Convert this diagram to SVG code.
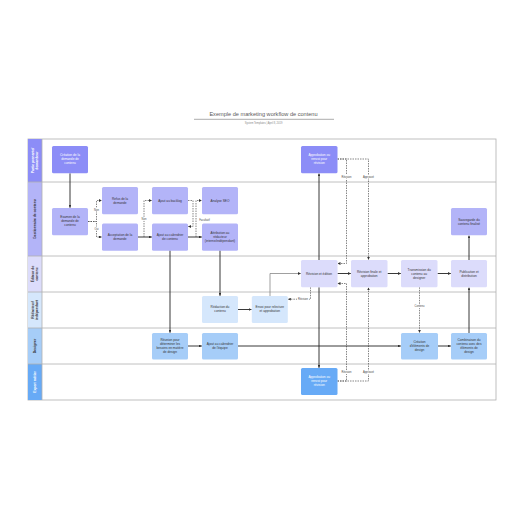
<svg xmlns="http://www.w3.org/2000/svg" width="516" height="516" viewBox="0 0 516 516">
<defs>
<marker id="ah" viewBox="0 0 4 4" refX="4" refY="2" markerWidth="2.8" markerHeight="2.8" markerUnits="userSpaceOnUse" orient="auto"><path d="M0,0 L4,2 L0,4 Z" fill="#333"/></marker>
</defs>
<style>
text{font-family:"Liberation Sans",Arial,sans-serif;}
.t{font-size:3.2px;fill:#333;text-anchor:middle;}
.w{fill:#fff;}
.hd{font-size:3.4px;font-weight:bold;text-anchor:middle;fill:#333;}
.n rect{rx:1.5;ry:1.5;}
.p1{fill:#8c8df7;}
.p2{fill:#b3b4f8;}
.p3{fill:#dcdcfb;}
.p4{fill:#d5e7fc;}
.p5{fill:#a6cdf8;}
.p6{fill:#67aaf6;}
.ln{fill:none;stroke:#222;stroke-width:0.9;marker-end:url(#ah);}
.lg{fill:none;stroke:#777;stroke-width:0.7;marker-end:url(#ah);}
.ds{fill:none;stroke:#444;stroke-width:0.65;stroke-dasharray:1.5,1;marker-end:url(#ah);}
.lb{font-size:2.6px;fill:#444;text-anchor:middle;}
.lbg{fill:#fff;}
.sep{stroke:#b0b0b0;stroke-width:0.8;}
</style>
<rect width="516" height="516" fill="#fff"/>
<g id="title">
<text x="263.5" y="116" style="font-size:5.6px;fill:#5a5a5a;text-anchor:middle;">Exemple de marketing workflow de contenu</text>
<line x1="194" y1="119.3" x2="334" y2="119.3" stroke="#888" stroke-width="0.7"/>
<text x="263.5" y="124.2" style="font-size:2.6px;fill:#888;text-anchor:middle;">System Templates  |  April 8, 2019</text>
</g>
<g id="lanes">
<rect x="28" y="139" width="468" height="261" fill="#fff" stroke="#b0b0b0" stroke-width="0.8"/>
<rect x="28" y="139" width="14" height="43" class="p1"/>
<rect x="28" y="182" width="14" height="74" class="p2"/>
<rect x="28" y="256" width="14" height="36" class="p3"/>
<rect x="28" y="292" width="14" height="36" class="p4"/>
<rect x="28" y="328" width="14" height="36" class="p5"/>
<rect x="28" y="364" width="14" height="36" class="p6"/>
<line class="sep" x1="28" y1="182" x2="496" y2="182"/>
<line class="sep" x1="28" y1="256" x2="496" y2="256"/>
<line class="sep" x1="28" y1="292" x2="496" y2="292"/>
<line class="sep" x1="28" y1="328" x2="496" y2="328"/>
<line class="sep" x1="28" y1="364" x2="496" y2="364"/>
<line class="sep" x1="42" y1="139" x2="42" y2="400"/>
<text class="hd w" transform="translate(35,160.5) rotate(-90)" style="fill:#fff"><tspan x="0" y="-0.6">Partie prenante/</tspan><tspan x="0" y="3.4">demandeur</tspan></text>
<text class="hd" transform="translate(35,219) rotate(-90)"><tspan x="0" y="1.2">Gestionnaire de contenu</tspan></text>
<text class="hd" transform="translate(35,274) rotate(-90)"><tspan x="0" y="-0.6">Éditeur de</tspan><tspan x="0" y="3.4">contenu</tspan></text>
<text class="hd" transform="translate(35,310) rotate(-90)"><tspan x="0" y="-0.6">Rédacteur/</tspan><tspan x="0" y="3.4">indépendant</tspan></text>
<text class="hd" transform="translate(35,346) rotate(-90)"><tspan x="0" y="1.2">Designer</tspan></text>
<text class="hd" transform="translate(35,382) rotate(-90)" style="fill:#fff"><tspan x="0" y="1.2">Expert métier</tspan></text>
</g>
<g id="connectors">
<path class="ln" d="M70,173.3 V207.7"/>
<path class="ds" d="M88,221.5 H96.5 V200.5 H101.8"/>
<path class="ds" d="M88,221.5 H96.5 V237 H101.8"/>
<path class="ln" d="M138,237 H151.8"/>
<path class="ds" d="M144,237 V200.5 H151.8"/>
<path class="ds" d="M188,200.5 H193 V226.5 H188.2"/>
<path class="ln" d="M188,237 H201.8"/>
<path class="ds" d="M196,237 V200.5 H201.8"/>
<path class="ln" d="M170,250.3 V332.7"/>
<path class="ln" d="M220,250.3 V295.8"/>
<path class="ln" d="M238,309.5 H251.5"/>
<path class="lg" d="M270,296 V273.5 H300.8"/>
<path class="ds" d="M310.5,287.3 V299.2 H288"/>
<path class="ln" d="M319,260 V173.5"/>
<path class="ln" d="M319,287.3 V367.8"/>
<path class="ds" d="M337.5,159 H346.5 V263.5 H337.7"/>
<path class="ds" d="M337.5,159 H368.5 V259.8"/>
<path class="ds" d="M337.5,381 H346.5 V283.5 H337.7"/>
<path class="ds" d="M337.5,381 H368.5 V287.5"/>
<path class="ln" d="M337.5,273.5 H350.8"/>
<path class="ln" d="M387.5,273.5 H400.8"/>
<path class="ln" d="M437.5,273.5 H450.8"/>
<path class="ds" d="M419.5,287.3 V332.7"/>
<path class="ln" d="M188,346 H201.8"/>
<path class="ln" d="M238,346 H400.8"/>
<path class="ln" d="M438,346 H450.8"/>
<path class="ln" d="M469,333 V287.6"/>
<path class="ln" d="M469,260 V235.6"/>
<rect class="lbg" x="94.5" y="207.5" width="4" height="4"/><text class="lb" x="96.5" y="210.5">Non</text>
<rect class="lbg" x="94.5" y="226.5" width="4" height="4"/><text class="lb" x="96.5" y="229.5">Oui</text>
<rect class="lbg" x="142" y="216.8" width="4" height="4"/><text class="lb" x="144" y="219.8">Non</text>
<rect class="lbg" x="197" y="218" width="15" height="3.6"/><text class="lb" x="204.5" y="220.8">Facultatif</text>
<rect class="lbg" x="297" y="297.4" width="12" height="3.6"/><text class="lb" x="303" y="300.2">Révision</text>
<rect class="lbg" x="340.5" y="175" width="12" height="3.6"/><text class="lb" x="346.5" y="177.8">Révision</text>
<rect class="lbg" x="361.5" y="175" width="14" height="3.6"/><text class="lb" x="368.5" y="177.8">Approuvé</text>
<rect class="lbg" x="340.5" y="370.5" width="12" height="3.6"/><text class="lb" x="346.5" y="373.3">Révision</text>
<rect class="lbg" x="361.5" y="370.5" width="14" height="3.6"/><text class="lb" x="368.5" y="373.3">Approuvé</text>
<rect class="lbg" x="413.5" y="304.4" width="12" height="3.6"/><text class="lb" x="419.5" y="307.2">Contenu</text>
</g>
<g id="n-creation-demande" class="n"><rect x="52" y="146" width="36" height="27.3" class="p1"/><text class="t w" x="70" y="156"><tspan x="70">Création de la</tspan><tspan x="70" dy="4">demande de</tspan><tspan x="70" dy="4">contenu</tspan></text></g>
<g id="n-approbation-pp" class="n"><rect x="301" y="146" width="36.5" height="27.3" class="p1"/><text class="t w" x="319" y="156"><tspan x="319.2">Approbation ou</tspan><tspan x="319.2" dy="4">renvoi pour</tspan><tspan x="319.2" dy="4">révision</tspan></text></g>
<g id="n-examen" class="n"><rect x="52" y="208" width="36" height="27.3" class="p2"/><text class="t" x="70" y="218"><tspan x="70">Examen de la</tspan><tspan x="70" dy="4">demande de</tspan><tspan x="70" dy="4">contenu</tspan></text></g>
<g id="n-refus" class="n"><rect x="102" y="187" width="36" height="27.3" class="p2"/><text class="t" x="120" y="199.5"><tspan x="120">Refus de la</tspan><tspan x="120" dy="4">demande</tspan></text></g>
<g id="n-acceptation" class="n"><rect x="102" y="223.5" width="36" height="27.3" class="p2"/><text class="t" x="120" y="236"><tspan x="120">Acceptation de la</tspan><tspan x="120" dy="4">demande</tspan></text></g>
<g id="n-backlog" class="n"><rect x="152" y="187" width="36" height="27.3" class="p2"/><text class="t" x="170" y="201.8">Ajout au backlog</text></g>
<g id="n-calendrier" class="n"><rect x="152" y="223.5" width="36" height="27.3" class="p2"/><text class="t" x="170" y="236"><tspan x="170">Ajout au calendrier</tspan><tspan x="170" dy="4">de contenu</tspan></text></g>
<g id="n-seo" class="n"><rect x="202" y="187" width="36" height="27.3" class="p2"/><text class="t" x="220" y="201.8">Analyse SEO</text></g>
<g id="n-attribution" class="n"><rect x="202" y="223.5" width="36" height="27.3" class="p2"/><text class="t" x="220" y="234"><tspan x="220">Attribution au</tspan><tspan x="220" dy="4">rédacteur</tspan><tspan x="220" dy="4">(interne/indépendant)</tspan></text></g>
<g id="n-sauvegarde" class="n"><rect x="451" y="208" width="36" height="27.3" class="p2"/><text class="t" x="469" y="220.5"><tspan x="469">Sauvegarde du</tspan><tspan x="469" dy="4">contenu finalisé</tspan></text></g>
<g id="n-revision-edition" class="n"><rect x="301" y="260" width="36.5" height="27.3" class="p3"/><text class="t" x="319" y="274.8">Révision et édition</text></g>
<g id="n-revision-finale" class="n"><rect x="351" y="260" width="36.5" height="27.3" class="p3"/><text class="t" x="369" y="272.5"><tspan x="369.2">Révision finale et</tspan><tspan x="369.2" dy="4">approbation</tspan></text></g>
<g id="n-transmission" class="n"><rect x="401" y="260" width="36.5" height="27.3" class="p3"/><text class="t" x="419" y="270.5"><tspan x="419.2">Transmission du</tspan><tspan x="419.2" dy="4">contenu au</tspan><tspan x="419.2" dy="4">designer</tspan></text></g>
<g id="n-publication" class="n"><rect x="451" y="260" width="36" height="27.3" class="p3"/><text class="t" x="469" y="272.5"><tspan x="469">Publication et</tspan><tspan x="469" dy="4">distribution</tspan></text></g>
<g id="n-redaction" class="n"><rect x="202" y="296" width="36" height="27" class="p4"/><text class="t" x="220" y="308.3"><tspan x="220">Rédaction du</tspan><tspan x="220" dy="4">contenu</tspan></text></g>
<g id="n-envoi" class="n"><rect x="251.8" y="296" width="36" height="27" class="p4"/><text class="t" x="269.8" y="308.3"><tspan x="269.8">Envoi pour relecture</tspan><tspan x="269.8" dy="4">et approbation</tspan></text></g>
<g id="n-reunion" class="n"><rect x="152" y="333" width="36" height="26.5" class="p5"/><text class="t" x="170" y="340.5"><tspan x="170">Réunion pour</tspan><tspan x="170" dy="4">déterminer les</tspan><tspan x="170" dy="4">besoins en matière</tspan><tspan x="170" dy="4">de design</tspan></text></g>
<g id="n-calendrier-equipe" class="n"><rect x="202" y="333" width="36" height="26.5" class="p5"/><text class="t" x="220" y="345"><tspan x="220">Ajout au calendrier</tspan><tspan x="220" dy="4">de l'équipe</tspan></text></g>
<g id="n-creation-design" class="n"><rect x="401" y="333" width="37" height="26.5" class="p5"/><text class="t" x="419.5" y="343"><tspan x="419.5">Création</tspan><tspan x="419.5" dy="4">d'éléments de</tspan><tspan x="419.5" dy="4">design</tspan></text></g>
<g id="n-combinaison" class="n"><rect x="451" y="333" width="36" height="26.5" class="p5"/><text class="t" x="469" y="340.5"><tspan x="469">Combinaison du</tspan><tspan x="469" dy="4">contenu avec des</tspan><tspan x="469" dy="4">éléments de</tspan><tspan x="469" dy="4">design</tspan></text></g>
<g id="n-approbation-expert" class="n"><rect x="301" y="368" width="36.5" height="27" class="p6"/><text class="t w" x="319" y="378"><tspan x="319.2">Approbation ou</tspan><tspan x="319.2" dy="4">renvoi pour</tspan><tspan x="319.2" dy="4">révision</tspan></text></g>
</svg>
